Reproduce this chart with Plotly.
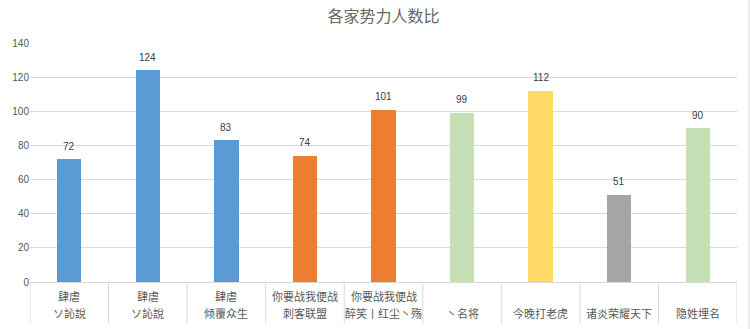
import plotly.graph_objects as go

top_labels = ["肆虐", "肆虐", "肆虐", "你要战我便战", "你要战我便战", "", "", "", ""]
bottom_labels = ["ソ訫說", "ソ訫說", "倾覆众生", "刺客联盟", "醉笑丨红尘丶殇", "丶名将", "今晚打老虎", "诸炎荣耀天下", "隐姓埋名"]
values = [72, 124, 83, 74, 101, 99, 112, 51, 90]
colors = ["#5B9BD5", "#5B9BD5", "#5B9BD5", "#ED7D31", "#ED7D31", "#C5E0B4", "#FFD966", "#A5A5A5", "#C5E0B4"]
y_ticks = [0, 20, 40, 60, 80, 100, 120, 140]

n = len(values)
xs = [i + 0.5 for i in range(n)]

W, H = 750, 329
ml, mr, mt, mb = 30, 13, 43, 47
plot_h = H - mt - mb

fig = go.Figure()
fig.add_trace(go.Bar(
    x=xs, y=values, width=0.31,
    marker=dict(color=colors, line=dict(width=0)),
))

grid = "#D9D9D9"
shapes = []
for i in range(n + 1):
    shapes.append(dict(type="line", xref="x", yref="paper", x0=i, x1=i,
                       y0=0, y1=-42 / plot_h, line=dict(color=grid, width=1)))
shapes.append(dict(type="line", xref="paper", yref="paper",
                   x0=1 + 12 / (W - ml - mr), x1=1 + 12 / (W - ml - mr),
                   y0=-mb / plot_h, y1=1 + mt / plot_h, line=dict(color=grid, width=1)))

annotations = []
for x, v in zip(xs, values):
    annotations.append(dict(x=x, y=v, xref="x", yref="y", text=str(v), showarrow=False,
                            yanchor="middle", yshift=13,
                            font=dict(size=10, color="#404040", family="Liberation Sans, Arial")))
font = dict(size=11, color="#595959", family="Noto Sans CJK SC")
for i in range(n):
    if top_labels[i]:
        annotations.append(dict(x=xs[i], y=-14 / plot_h, xref="x", yref="paper",
                                text=top_labels[i], showarrow=False, font=font,
                                xanchor="center", yanchor="middle"))
    annotations.append(dict(x=xs[i], y=-31 / plot_h, xref="x", yref="paper",
                            text=bottom_labels[i], showarrow=False, font=font,
                            xanchor="center", yanchor="middle"))

fig.update_layout(
    width=W, height=H,
    margin=dict(l=ml, r=mr, t=mt, b=mb),
    paper_bgcolor="white", plot_bgcolor="white",
    title=dict(text="各家势力人数比", x=0.5, xref="paper", xanchor="center",
               y=1 - 16 / H, yref="container", yanchor="middle",
               font=dict(size=16, color="#666666", family="Noto Sans CJK SC")),
    xaxis=dict(range=[0, n], showticklabels=False, showgrid=False, zeroline=False,
               showline=True, linecolor=grid, linewidth=1, fixedrange=True),
    yaxis=dict(range=[0, 140], tickvals=y_ticks, showgrid=True, gridcolor=grid, gridwidth=1,
               zeroline=False, showline=False, ticks="",
               tickfont=dict(size=10, color="#595959", family="Liberation Sans, Arial")),
    shapes=shapes, annotations=annotations, showlegend=False, bargap=0,
)

fig.write_html("out.html")
